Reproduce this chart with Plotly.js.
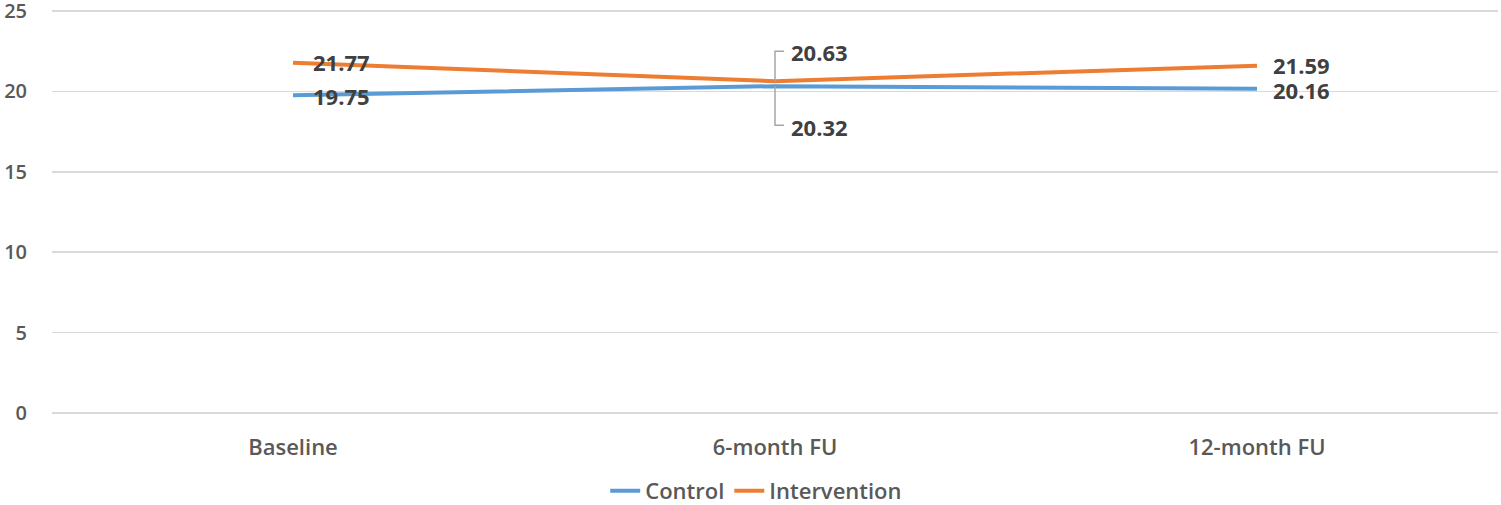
<!DOCTYPE html>
<html>
<head>
<meta charset="utf-8">
<script src="https://cdn.plot.ly/plotly-3.0.1.min.js"></script>
<style>
  html, body { margin: 0; padding: 0; background: #fff; }
  #chart { width: 1501px; height: 505px; }
</style>
</head>
<body>
<div id="chart"></div>
<script>
// Chart data
const timepoints = ['Baseline', '6-month FU', '12-month FU'];
const control = [19.75, 20.32, 20.16];
const intervention = [21.77, 20.63, 21.59];
const yTicks = [0, 5, 10, 15, 20, 25];

// Colours
const blue = '#5B9BD5';
const orange = '#ED7D31';
const gridColor = '#D9D9D9';
const tickColor = '#595959';
const labelColor = '#404040';
const leaderColor = '#A6A6A6';

const fontFamily = '"Open Sans", "Noto Sans", sans-serif';

function lineTrace(name, values, color) {
    return {
        x: timepoints,
        y: values,
        name: name,
        type: 'scatter',
        mode: 'lines',
        line: { color: color, width: 4 },
        hoverinfo: 'skip'
    };
}

const data = [
    lineTrace('Control', control, blue),
    lineTrace('Intervention', intervention, orange)
];

// Data labels: right of the point at the ends, callouts in the middle
const annotations = [];
const shapes = [];
[control, intervention].forEach(function (series, s) {
    series.forEach(function (v, i) {
        const upper = v === Math.max(control[i], intervention[i]);
        const ann = {
            x: timepoints[i],
            y: v,
            text: v.toFixed(2),
            showarrow: false,
            xanchor: 'left',
            yanchor: 'middle',
            font: { family: fontFamily, size: 22, color: labelColor, weight: 700 }
        };
        if (i === 1) {
            // callout: above for the upper value, below for the lower one
            ann.xshift = 14;
            ann.yshift = upper ? 29 : -41;
            shapes.push({
                type: 'path',
                xref: 'x', yref: 'y',
                xsizemode: 'pixel', ysizemode: 'pixel',
                xanchor: timepoints[i], yanchor: v,
                path: upper ? 'M0,0 L0,30 L9,30' : 'M0,0 L0,-39 L9,-39',
                line: { color: leaderColor, width: 1.5 }
            });
        } else {
            ann.xshift = i === 0 ? 18 : 14;
            ann.yshift = upper ? 1 : -1;
        }
        annotations.push(ann);
    });
});

const layout = {
    width: 1501,
    height: 505,
    margin: { l: 52, r: 3, t: 6, b: 87 },
    paper_bgcolor: '#fff',
    plot_bgcolor: '#fff',
    font: { family: fontFamily, color: tickColor },
    xaxis: {
        type: 'category',
        range: [-0.5, 2.5],
        showgrid: false,
        zeroline: false,
        showline: false,
        ticks: '',
        ticklabelstandoff: 14,
        tickfont: { family: fontFamily, size: 22, color: tickColor, weight: 600 },
        fixedrange: true
    },
    yaxis: {
        range: [-0.3, 25.3],
        tickvals: yTicks,
        ticktext: yTicks.map(String),
        showgrid: true,
        gridcolor: gridColor,
        gridwidth: 1.5,
        zeroline: false,
        showline: false,
        ticks: '',
        ticklabelstandoff: 24,
        ticklabeloverflow: 'allow',
        tickfont: { family: fontFamily, size: 20, color: tickColor, weight: 600 },
        fixedrange: true
    },
    showlegend: true,
    legend: {
        orientation: 'h',
        x: 0.487,
        xanchor: 'center',
        yref: 'container',
        y: 0.028,
        yanchor: 'middle',
        font: { family: fontFamily, size: 22, color: tickColor, weight: 600 },
        itemwidth: 30,
        bgcolor: 'rgba(0,0,0,0)'
    },
    annotations: annotations,
    shapes: shapes
};

Plotly.newPlot('chart', data, layout, { displayModeBar: false, staticPlot: true });
</script>
</body>
</html>
